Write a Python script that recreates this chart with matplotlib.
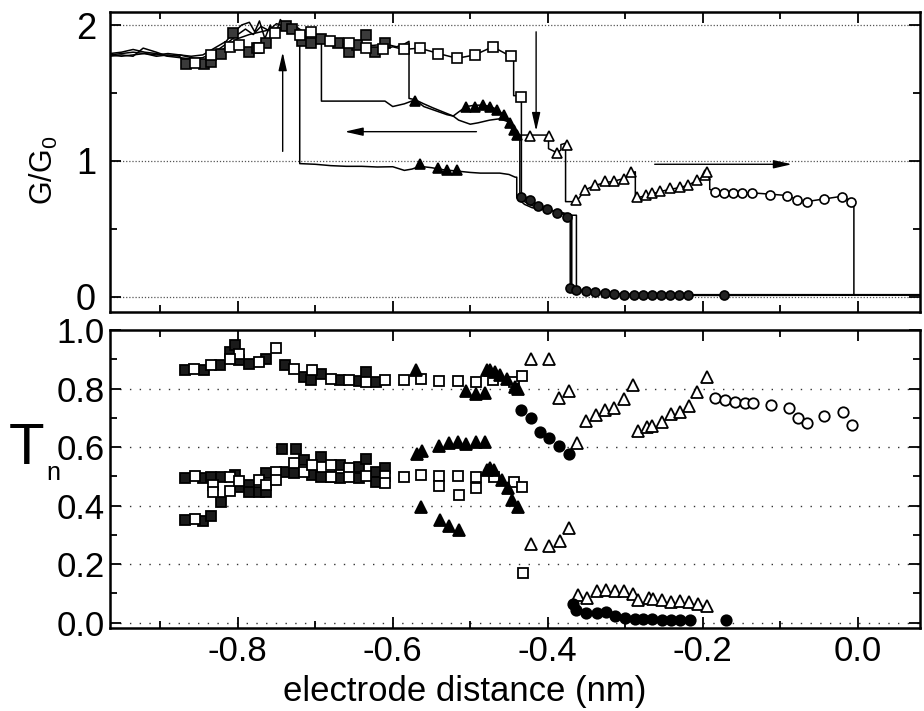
import matplotlib
matplotlib.use("Agg")
import matplotlib.pyplot as plt
from matplotlib.ticker import MultipleLocator, FixedLocator

plt.rcParams['font.family'] = ['Liberation Sans', 'DejaVu Sans']
plt.rcParams['mathtext.fontset'] = 'custom'
plt.rcParams['mathtext.rm'] = 'Liberation Sans'

# ---------------- top panel: conductance traces (x in nm, G/G0) ----------------
trace_a = [(-0.965, 1.78), (-0.95, 1.79), (-0.935, 1.80), (-0.92, 1.79), (-0.905, 1.77), (-0.89, 1.78),
           (-0.875, 1.77), (-0.867, 1.71), (-0.855, 1.72), (-0.844, 1.71), (-0.834, 1.73), (-0.822, 1.79),
           (-0.81, 1.84), (-0.799, 1.85), (-0.786, 1.80), (-0.775, 1.83), (-0.763, 1.87), (-0.752, 1.94),
           (-0.738, 1.99), (-0.728, 1.97), (-0.717, 1.88), (-0.705, 1.87), (-0.692, 1.90), (-0.681, 1.88),
           (-0.670, 1.87), (-0.657, 1.85), (-0.646, 1.85), (-0.634, 1.83), (-0.623, 1.81), (-0.612, 1.82),
           (-0.60, 1.84), (-0.586, 1.82), (-0.565, 1.83), (-0.541, 1.79), (-0.517, 1.755), (-0.494, 1.78),
           (-0.471, 1.84), (-0.448, 1.77), (-0.444, 1.77), (-0.444, 1.48), (-0.434, 1.48), (-0.434, 0.74),
           (-0.423, 0.712), (-0.412, 0.668), (-0.401, 0.644), (-0.388, 0.62), (-0.375, 0.60), (-0.369, 0.60),
           (-0.369, 0.06), (-0.350, 0.04), (-0.339, 0.035), (-0.326, 0.03), (-0.315, 0.02), (-0.302, 0.015),
           (-0.289, 0.012), (-0.266, 0.01), (-0.219, 0.01), (-0.172, 0.01), (0.08, 0.012)]

trace_b = [(-0.965, 1.77), (-0.95, 1.78), (-0.935, 1.77), (-0.922, 1.83), (-0.905, 1.80), (-0.89, 1.77),
           (-0.875, 1.78), (-0.86, 1.77), (-0.845, 1.78), (-0.83, 1.83), (-0.815, 1.88), (-0.806, 1.94),
           (-0.795, 2.00), (-0.785, 2.02), (-0.778, 1.95), (-0.772, 2.03), (-0.765, 1.90), (-0.758, 2.00),
           (-0.752, 1.92), (-0.745, 2.04), (-0.738, 1.98), (-0.728, 2.00), (-0.715, 1.95), (-0.700, 1.92),
           (-0.692, 1.90), (-0.692, 1.44), (-0.66, 1.44), (-0.63, 1.44), (-0.61, 1.44), (-0.60, 1.40),
           (-0.585, 1.42), (-0.571, 1.45), (-0.56, 1.40), (-0.545, 1.37), (-0.53, 1.34), (-0.522, 1.33),
           (-0.515, 1.30), (-0.50, 1.27), (-0.49, 1.28), (-0.475, 1.30), (-0.462, 1.31), (-0.452, 1.29),
           (-0.445, 1.22), (-0.436, 1.19), (-0.436, 0.74), (-0.43, 0.70), (-0.42, 0.67), (-0.40, 0.645),
           (-0.385, 0.62), (-0.372, 0.60), (-0.363, 0.60), (-0.363, 0.05), (-0.35, 0.035), (-0.30, 0.02),
           (-0.25, 0.015), (-0.17, 0.015), (0.08, 0.015)]

trace_c = [(-0.965, 1.79), (-0.95, 1.80), (-0.935, 1.82), (-0.92, 1.80), (-0.905, 1.79), (-0.89, 1.77),
           (-0.875, 1.76), (-0.86, 1.75), (-0.845, 1.76), (-0.83, 1.80), (-0.815, 1.86), (-0.80, 1.93),
           (-0.79, 1.97), (-0.78, 1.93), (-0.77, 1.99), (-0.76, 1.96), (-0.75, 2.01), (-0.74, 1.99),
           (-0.728, 1.96), (-0.715, 1.90), (-0.70, 1.89), (-0.685, 1.88), (-0.67, 1.86), (-0.655, 1.86),
           (-0.64, 1.85), (-0.625, 1.85), (-0.61, 1.86), (-0.595, 1.84), (-0.585, 1.86), (-0.579, 1.88),
           (-0.579, 1.46), (-0.571, 1.45), (-0.56, 1.42), (-0.548, 1.39), (-0.535, 1.36), (-0.522, 1.33),
           (-0.515, 1.36), (-0.505, 1.40), (-0.494, 1.41), (-0.483, 1.41), (-0.474, 1.40), (-0.466, 1.38),
           (-0.457, 1.34), (-0.449, 1.28), (-0.444, 1.23), (-0.440, 1.19), (-0.423, 1.19), (-0.399, 1.19),
           (-0.399, 1.09), (-0.388, 1.06), (-0.383, 1.08), (-0.383, 1.12), (-0.377, 1.13), (-0.377, 0.70),
           (-0.363, 0.70), (-0.352, 0.786), (-0.339, 0.82), (-0.326, 0.84), (-0.315, 0.85), (-0.302, 0.87),
           (-0.292, 0.91), (-0.287, 0.92), (-0.287, 0.725), (-0.273, 0.745), (-0.266, 0.755), (-0.255, 0.775),
           (-0.242, 0.79), (-0.229, 0.805), (-0.219, 0.82), (-0.208, 0.855), (-0.197, 0.89), (-0.191, 0.92),
           (-0.191, 0.79), (-0.184, 0.775), (-0.172, 0.77), (-0.149, 0.765), (-0.137, 0.765), (-0.125, 0.76),
           (-0.113, 0.755), (-0.091, 0.745), (-0.079, 0.715), (-0.066, 0.70), (-0.055, 0.71), (-0.043, 0.72),
           (-0.020, 0.74), (-0.009, 0.70), (-0.005, 0.69), (-0.005, 0.015)]

trace_d = [(-0.965, 1.78), (-0.95, 1.77), (-0.935, 1.78), (-0.92, 1.79), (-0.905, 1.78), (-0.89, 1.79),
           (-0.875, 1.78), (-0.86, 1.76), (-0.845, 1.74), (-0.83, 1.77), (-0.815, 1.84), (-0.80, 1.90),
           (-0.785, 1.93), (-0.77, 1.95), (-0.755, 1.97), (-0.74, 1.99), (-0.73, 1.97), (-0.72, 1.96),
           (-0.72, 0.98), (-0.70, 0.975), (-0.68, 0.965), (-0.66, 0.96), (-0.64, 0.96), (-0.62, 0.955),
           (-0.60, 0.957), (-0.585, 0.93), (-0.575, 0.94), (-0.565, 0.96), (-0.55, 0.95), (-0.535, 0.935),
           (-0.517, 0.925), (-0.50, 0.915), (-0.487, 0.91), (-0.462, 0.91), (-0.45, 0.90), (-0.442, 0.88),
           (-0.440, 0.88), (-0.440, 0.73), (-0.43, 0.68), (-0.42, 0.655), (-0.40, 0.64), (-0.385, 0.625),
           (-0.375, 0.61), (-0.371, 0.61), (-0.371, 0.06), (-0.36, 0.04), (-0.34, 0.03), (-0.30, 0.015),
           (0.08, 0.015)]

# top panel markers
top_filled_sq = [(-0.867, 1.71), (-0.844, 1.71), (-0.834, 1.73), (-0.822, 1.79), (-0.806, 1.94),
                 (-0.786, 1.80), (-0.775, 1.83), (-0.763, 1.87), (-0.738, 1.99), (-0.730, 1.97),
                 (-0.717, 1.88), (-0.705, 1.87), (-0.692, 1.90), (-0.670, 1.87), (-0.657, 1.80),
                 (-0.646, 1.85), (-0.634, 1.93), (-0.623, 1.80), (-0.610, 1.87)]
top_open_sq = [(-0.855, 1.72), (-0.834, 1.78), (-0.81, 1.84), (-0.799, 1.85), (-0.773, 1.83),
               (-0.752, 1.94), (-0.720, 1.93), (-0.705, 1.95), (-0.681, 1.88), (-0.657, 1.87),
               (-0.634, 1.83), (-0.612, 1.82), (-0.586, 1.82), (-0.565, 1.83), (-0.541, 1.79),
               (-0.517, 1.755), (-0.494, 1.78), (-0.471, 1.84), (-0.448, 1.77), (-0.434, 1.47)]
top_filled_tri = [(-0.571, 1.44), (-0.505, 1.40), (-0.494, 1.40), (-0.483, 1.41), (-0.474, 1.40),
                  (-0.466, 1.375), (-0.457, 1.34), (-0.449, 1.28), (-0.444, 1.23), (-0.440, 1.19),
                  (-0.565, 0.98), (-0.541, 0.945), (-0.530, 0.935), (-0.517, 0.93)]
top_open_tri = [(-0.423, 1.18), (-0.399, 1.18), (-0.388, 1.056), (-0.375, 1.12), (-0.363, 0.712),
                (-0.352, 0.786), (-0.339, 0.82), (-0.326, 0.85), (-0.315, 0.85), (-0.302, 0.87),
                (-0.292, 0.92), (-0.285, 0.736), (-0.273, 0.75), (-0.266, 0.76), (-0.255, 0.78),
                (-0.242, 0.80), (-0.229, 0.81), (-0.219, 0.82), (-0.208, 0.86), (-0.197, 0.896),
                (-0.194, 0.92)]
top_filled_circ = [(-0.434, 0.736), (-0.423, 0.712), (-0.412, 0.668), (-0.401, 0.644), (-0.388, 0.62),
                   (-0.375, 0.59), (-0.371, 0.062), (-0.363, 0.05), (-0.350, 0.04), (-0.339, 0.035),
                   (-0.326, 0.03), (-0.315, 0.02), (-0.302, 0.015), (-0.289, 0.012), (-0.277, 0.01),
                   (-0.266, 0.01), (-0.254, 0.01), (-0.242, 0.01), (-0.231, 0.01), (-0.219, 0.01),
                   (-0.172, 0.01)]
top_open_circ = [(-0.184, 0.773), (-0.172, 0.766), (-0.161, 0.76), (-0.149, 0.76), (-0.137, 0.76),
                 (-0.113, 0.75), (-0.091, 0.74), (-0.079, 0.712), (-0.066, 0.695), (-0.043, 0.717),
                 (-0.020, 0.736), (-0.009, 0.695)]

# arrows (tail -> head) in data units of the top panel
arrows = [((-0.742, 1.07), (-0.742, 1.80)),
          ((-0.492, 1.215), (-0.662, 1.215)),
          ((-0.415, 1.95), (-0.415, 1.22)),
          ((-0.262, 0.975), (-0.085, 0.975))]

# ---------------- bottom panel: transmission channels T_n ----------------
bot_filled_sq = [(-0.868, 0.865), (-0.844, 0.862), (-0.823, 0.88), (-0.810, 0.925), (-0.803, 0.948),
                 (-0.798, 0.897), (-0.786, 0.885), (-0.763, 0.902), (-0.739, 0.88), (-0.715, 0.84),
                 (-0.705, 0.828), (-0.692, 0.851), (-0.668, 0.828), (-0.644, 0.826), (-0.634, 0.855),
                 (-0.622, 0.823),
                 (-0.868, 0.493), (-0.845, 0.493), (-0.834, 0.498), (-0.821, 0.498), (-0.822, 0.413),
                 (-0.803, 0.504), (-0.797, 0.464), (-0.786, 0.47), (-0.785, 0.447), (-0.773, 0.447),
                 (-0.763, 0.447), (-0.763, 0.51), (-0.743, 0.595), (-0.725, 0.595), (-0.739, 0.515),
                 (-0.727, 0.51), (-0.715, 0.555), (-0.704, 0.504), (-0.692, 0.567), (-0.692, 0.498),
                 (-0.680, 0.498), (-0.668, 0.538), (-0.668, 0.493), (-0.644, 0.532), (-0.644, 0.493),
                 (-0.634, 0.561), (-0.622, 0.515), (-0.610, 0.527), (-0.622, 0.481),
                 (-0.868, 0.35), (-0.845, 0.348), (-0.834, 0.365)]
bot_open_sq = [(-0.856, 0.868), (-0.834, 0.882), (-0.798, 0.919), (-0.810, 0.90), (-0.773, 0.889),
               (-0.751, 0.937), (-0.727, 0.868), (-0.704, 0.862), (-0.680, 0.834), (-0.656, 0.828),
               (-0.634, 0.823), (-0.610, 0.828), (-0.586, 0.828), (-0.563, 0.831), (-0.540, 0.825),
               (-0.516, 0.825), (-0.493, 0.823), (-0.470, 0.828), (-0.444, 0.823), (-0.433, 0.842),
               (-0.855, 0.502), (-0.832, 0.47), (-0.832, 0.447), (-0.810, 0.498), (-0.810, 0.449),
               (-0.798, 0.485), (-0.773, 0.487), (-0.763, 0.47), (-0.751, 0.515), (-0.751, 0.487),
               (-0.727, 0.544), (-0.715, 0.515), (-0.704, 0.538), (-0.680, 0.538), (-0.680, 0.498),
               (-0.656, 0.527), (-0.656, 0.498), (-0.634, 0.50), (-0.610, 0.50), (-0.610, 0.476),
               (-0.586, 0.498), (-0.563, 0.506), (-0.540, 0.50), (-0.540, 0.467), (-0.516, 0.502),
               (-0.515, 0.438), (-0.493, 0.498), (-0.493, 0.461), (-0.469, 0.498), (-0.444, 0.481),
               (-0.433, 0.462), (-0.432, 0.171), (-0.855, 0.354)]
bot_filled_tri = [(-0.570, 0.862), (-0.505, 0.792), (-0.493, 0.783), (-0.481, 0.785), (-0.478, 0.862),
                  (-0.475, 0.862), (-0.468, 0.857), (-0.462, 0.845), (-0.453, 0.834), (-0.442, 0.805),
                  (-0.438, 0.80),
                  (-0.569, 0.578), (-0.562, 0.587), (-0.540, 0.604), (-0.527, 0.614), (-0.516, 0.618),
                  (-0.505, 0.61), (-0.493, 0.618), (-0.481, 0.618),
                  (-0.563, 0.396), (-0.539, 0.351), (-0.527, 0.33), (-0.515, 0.316),
                  (-0.478, 0.521), (-0.475, 0.527), (-0.469, 0.521), (-0.459, 0.487), (-0.451, 0.459),
                  (-0.446, 0.419), (-0.439, 0.396)]
bot_open_tri = [(-0.422, 0.902), (-0.398, 0.902), (-0.385, 0.768), (-0.373, 0.792), (-0.362, 0.614),
                (-0.350, 0.689), (-0.338, 0.709), (-0.326, 0.728), (-0.314, 0.735), (-0.302, 0.766),
                (-0.290, 0.811), (-0.284, 0.655), (-0.272, 0.669), (-0.266, 0.671), (-0.253, 0.686),
                (-0.241, 0.712), (-0.230, 0.720), (-0.218, 0.74), (-0.207, 0.788), (-0.195, 0.838),
                (-0.421, 0.268), (-0.398, 0.262), (-0.384, 0.28), (-0.373, 0.322),
                (-0.361, 0.095), (-0.349, 0.083), (-0.337, 0.109), (-0.325, 0.112), (-0.313, 0.109),
                (-0.301, 0.109), (-0.290, 0.098), (-0.283, 0.077), (-0.270, 0.083), (-0.264, 0.08),
                (-0.253, 0.077), (-0.241, 0.072), (-0.229, 0.074), (-0.218, 0.072), (-0.206, 0.064),
                (-0.194, 0.057)]
bot_filled_circ = [(-0.434, 0.726), (-0.422, 0.70), (-0.410, 0.652), (-0.398, 0.631), (-0.385, 0.603),
                   (-0.373, 0.576), (-0.368, 0.064), (-0.363, 0.043), (-0.350, 0.034), (-0.337, 0.034),
                   (-0.325, 0.036), (-0.313, 0.022), (-0.300, 0.015), (-0.288, 0.012), (-0.277, 0.012),
                   (-0.265, 0.012), (-0.253, 0.01), (-0.241, 0.01), (-0.229, 0.01), (-0.217, 0.008),
                   (-0.170, 0.008)]
bot_open_circ = [(-0.184, 0.768), (-0.171, 0.76), (-0.159, 0.754), (-0.146, 0.751), (-0.135, 0.749),
                 (-0.112, 0.743), (-0.089, 0.735), (-0.077, 0.701), (-0.066, 0.683), (-0.043, 0.706),
                 (-0.019, 0.72), (-0.008, 0.677)]

x_ticks = [-0.8, -0.6, -0.4, -0.2, 0.0]
x_ticklabels = ['-0.8', '-0.6', '-0.4', '-0.2', '0.0']
g_ticks = [0, 1, 2]
t_ticks = [0.0, 0.2, 0.4, 0.6, 0.8, 1.0]
t_ticklabels = ['0.0', '0.2', '0.4', '0.6', '0.8', '1.0']


def xy(pts):
    return [p[0] for p in pts], [p[1] for p in pts]


W, H = 924, 711
fig = plt.figure(figsize=(W / 100, H / 100), dpi=100)
ax1 = fig.add_axes([110 / W, 1 - 311.7 / H, 810 / W, 300 / H])
ax2 = fig.add_axes([110 / W, 1 - 628.3 / H, 810 / W, 298.3 / H])

FS = 25
for ax in (ax1, ax2):
    ax.set_xlim(-0.9648, 0.0803)
    ax.xaxis.set_major_locator(FixedLocator(x_ticks))
    ax.xaxis.set_minor_locator(MultipleLocator(0.1))
    ax.tick_params(which='both', direction='in', top=True, right=True, width=1.3)
    ax.tick_params(which='major', length=8)
    ax.tick_params(which='minor', length=5)
    for s in ax.spines.values():
        s.set_linewidth(1.8)
    ax.set_facecolor('white')

# top panel
ax1.set_ylim(-0.11, 2.098)
ax1.yaxis.set_major_locator(FixedLocator(g_ticks))
ax1.yaxis.set_minor_locator(MultipleLocator(0.5))
ax1.set_yticklabels([str(v) for v in g_ticks], fontsize=FS + 1)
ax1.tick_params(axis='y', pad=10)
ax1.tick_params(axis='x', labelbottom=False)
for g in g_ticks:
    ax1.axhline(g, color='#555555', lw=0.9, ls=(0, (1, 1.5)), zorder=0)

for tr in (trace_a, trace_b, trace_c, trace_d):
    xs, ys = xy(tr)
    ax1.plot(xs, ys, color='black', lw=1.1, zorder=2)

mk = dict(ls='none', mec='black', mew=1.2, zorder=3)
xs, ys = xy(top_filled_sq); ax1.plot(xs, ys, marker='s', ms=6.5, mfc='#3a3a3a', **mk)
xs, ys = xy(top_open_sq); ax1.plot(xs, ys, marker='s', ms=6.5, mfc='white', **mk)
xs, ys = xy(top_filled_tri); ax1.plot(xs, ys, marker='^', ms=7.5, mfc='black', **mk)
xs, ys = xy(top_open_tri); ax1.plot(xs, ys, marker='^', ms=7.5, mfc='white', **mk)
xs, ys = xy(top_filled_circ); ax1.plot(xs, ys, marker='o', ms=6.5, mfc='#222222', **mk)
xs, ys = xy(top_open_circ); ax1.plot(xs, ys, marker='o', ms=6.5, mfc='white', **mk)

for tail, head in arrows:
    ax1.annotate('', xy=head, xytext=tail,
                 arrowprops=dict(arrowstyle='-|>,head_length=1.1,head_width=0.25',
                                 color='black', lw=1.0, shrinkA=0, shrinkB=0),
                 zorder=4)

# bottom panel
ax2.set_ylim(-0.019, 1.0)
ax2.yaxis.set_major_locator(FixedLocator(t_ticks))
ax2.yaxis.set_minor_locator(MultipleLocator(0.1))
ax2.set_yticklabels(t_ticklabels, fontsize=FS)
ax2.set_xticklabels(x_ticklabels, fontsize=FS)
ax2.tick_params(axis='y', pad=4)
ax2.tick_params(axis='x', pad=5)
for t in t_ticks[:-1]:
    ax2.axhline(t, color='#333333', lw=1.0, ls=(0, (1, 6)), zorder=0)

mk2 = dict(ls='none', mec='black', mew=1.3, zorder=3)
xs, ys = xy(bot_filled_sq); ax2.plot(xs, ys, marker='s', ms=7.5, mfc='#1a1a1a', **mk2)
xs, ys = xy(bot_open_sq); ax2.plot(xs, ys, marker='s', ms=7.5, mfc='white', **mk2)
xs, ys = xy(bot_filled_tri); ax2.plot(xs, ys, marker='^', ms=8.5, mfc='black', **mk2)
xs, ys = xy(bot_open_tri); ax2.plot(xs, ys, marker='^', ms=8.5, mfc='white', **mk2)
xs, ys = xy(bot_filled_circ); ax2.plot(xs, ys, marker='o', ms=7.5, mfc='black', **mk2)
xs, ys = xy(bot_open_circ); ax2.plot(xs, ys, marker='o', ms=7.5, mfc='white', **mk2)

fig.text(465 / W, 1 - 692 / H, 'electrode distance (nm)', fontsize=25, ha='center', va='center')

fig.text(44 / W, 1 - 170 / H, r'$\mathregular{G/G_0}$', fontsize=22, rotation=90,
         ha='center', va='center')
fig.text(27 / W, 1 - 449 / H, 'T', fontsize=42, ha='center', va='center')
fig.text(53 / W, 1 - 480 / H, 'n', fontsize=18, ha='center', va='baseline')

fig.savefig('out.png', dpi=100, facecolor='white')
